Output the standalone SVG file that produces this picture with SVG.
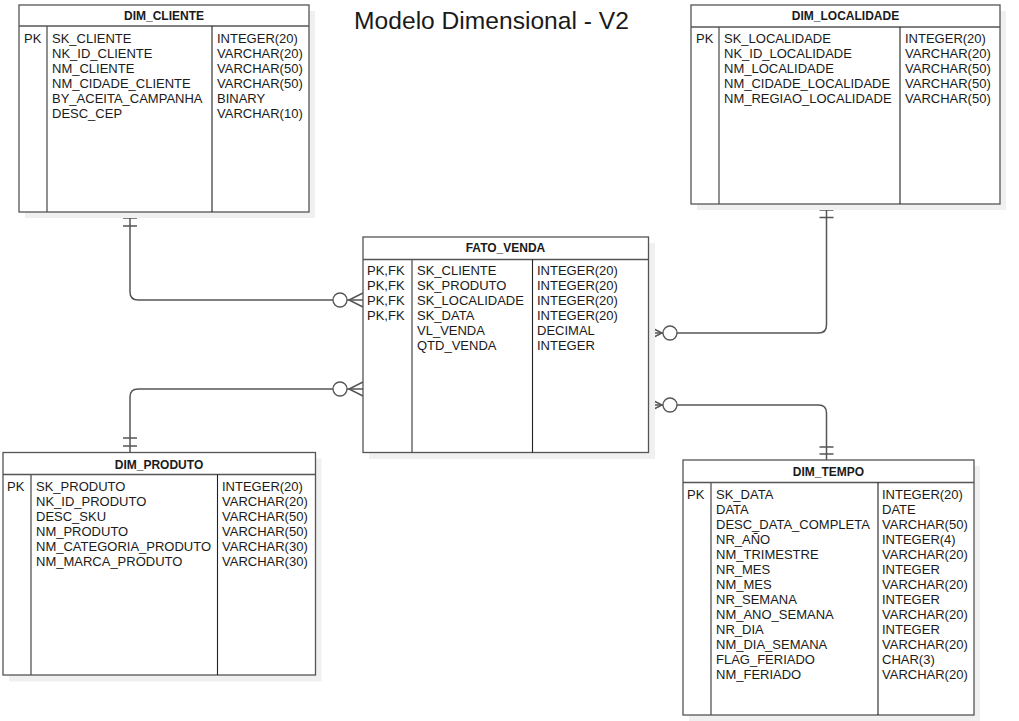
<svg xmlns="http://www.w3.org/2000/svg" width="1019" height="721" viewBox="0 0 1019 721">
<style>
.bg{fill:#ffffff}
.sh{fill:#f0f0f0;stroke:none}
.box{fill:#ffffff;stroke:#555555;stroke-width:1.3}
.div{stroke:#555555;stroke-width:1.3;fill:none}
.div2{stroke:#222222;stroke-width:1.1;fill:none}
.hd{font-family:"Liberation Sans",Arial,sans-serif;font-size:12px;font-weight:bold;fill:#1a1a1a;text-anchor:middle}
.t{font-family:"Liberation Sans",Arial,sans-serif;font-size:13px;fill:#1a1a1a}
.title{font-family:"Liberation Sans",Arial,sans-serif;font-size:24.6px;fill:#1a1a1a;text-anchor:middle}
.cn{fill:none;stroke:#555555;stroke-width:1.5}
.circ{fill:#ffffff;stroke:#555555;stroke-width:1.3}
</style>
<rect class="bg" x="0" y="0" width="1019" height="721"/>
<text class="title" x="491.5" y="29">Modelo Dimensional - V2</text>

<g id="connectors">
  <!-- DIM_CLIENTE to FATO_VENDA -->
  <path class="cn" d="M130,212 L130,292 Q130,300 138,300 L363,300"/>
  <path class="cn" d="M123,218 L137,218 M123,226 L137,226"/>
  <path class="cn" d="M363,293 L349,300 L363,307"/>
  <circle class="circ" cx="340" cy="300" r="7"/>
  <!-- DIM_PRODUTO to FATO_VENDA -->
  <path class="cn" d="M130,452 L130,397 Q130,389 138,389 L363,389"/>
  <path class="cn" d="M123,438 L137,438 M123,446 L137,446"/>
  <path class="cn" d="M363,382 L349,389 L363,396"/>
  <circle class="circ" cx="340" cy="389" r="7"/>
  <!-- DIM_LOCALIDADE to FATO_VENDA -->
  <path class="cn" d="M826.5,204 L826.5,325 Q826.5,333 818.5,333 L648,333"/>
  <path class="cn" d="M819.5,210 L833.5,210 M819.5,217.5 L833.5,217.5"/>
  <path class="cn" d="M648,326 L662,333 L648,340"/>
  <circle class="circ" cx="670" cy="333" r="7"/>
  <!-- DIM_TEMPO to FATO_VENDA -->
  <path class="cn" d="M826.5,460 L826.5,413 Q826.5,405 818.5,405 L648,405"/>
  <path class="cn" d="M819.5,447 L833.5,447 M819.5,454 L833.5,454"/>
  <path class="cn" d="M648,398 L662,405 L648,412"/>
  <circle class="circ" cx="670" cy="405" r="7"/>
</g>

<g id="DIM_CLIENTE">
  <rect class="sh" x="25" y="11" width="290" height="207"/>
  <rect class="box" x="19" y="5" width="290" height="207"/>
  <path class="div" d="M19,26 L309,26 M47,26 L47,212"/>
  <path class="div2" d="M212,26 L212,212"/>
  <text class="hd" x="164" y="19.5">DIM_CLIENTE</text>
  <text class="t" x="24" y="42.5">PK</text>
  <text class="t" x="52" y="42.5">SK_CLIENTE</text>
  <text class="t" x="52" y="57.5">NK_ID_CLIENTE</text>
  <text class="t" x="52" y="72.5">NM_CLIENTE</text>
  <text class="t" x="52" y="87.5">NM_CIDADE_CLIENTE</text>
  <text class="t" x="52" y="102.5">BY_ACEITA_CAMPANHA</text>
  <text class="t" x="52" y="117.5">DESC_CEP</text>
  <text class="t" x="217" y="42.5">INTEGER(20)</text>
  <text class="t" x="217" y="57.5">VARCHAR(20)</text>
  <text class="t" x="217" y="72.5">VARCHAR(50)</text>
  <text class="t" x="217" y="87.5">VARCHAR(50)</text>
  <text class="t" x="217" y="102.5">BINARY</text>
  <text class="t" x="217" y="117.5">VARCHAR(10)</text>
</g>

<g id="DIM_LOCALIDADE">
  <rect class="sh" x="697" y="11" width="309" height="199"/>
  <rect class="box" x="691" y="5" width="309" height="199"/>
  <path class="div" d="M691,27 L1000,27 M719,27 L719,204"/>
  <path class="div2" d="M900,27 L900,204"/>
  <text class="hd" x="845.5" y="19.5">DIM_LOCALIDADE</text>
  <text class="t" x="696" y="42.5">PK</text>
  <text class="t" x="724" y="42.5">SK_LOCALIDADE</text>
  <text class="t" x="724" y="57.5">NK_ID_LOCALIDADE</text>
  <text class="t" x="724" y="72.5">NM_LOCALIDADE</text>
  <text class="t" x="724" y="87.5">NM_CIDADE_LOCALIDADE</text>
  <text class="t" x="724" y="102.5">NM_REGIAO_LOCALIDADE</text>
  <text class="t" x="905" y="42.5">INTEGER(20)</text>
  <text class="t" x="905" y="57.5">VARCHAR(20)</text>
  <text class="t" x="905" y="72.5">VARCHAR(50)</text>
  <text class="t" x="905" y="87.5">VARCHAR(50)</text>
  <text class="t" x="905" y="102.5">VARCHAR(50)</text>
</g>

<g id="FATO_VENDA">
  <rect class="sh" x="369" y="243" width="286" height="216"/>
  <rect class="box" x="363" y="237" width="285.5" height="215.5"/>
  <path class="div" d="M363,259.5 L648.5,259.5 M412,259.5 L412,452.5"/>
  <path class="div2" d="M532.5,259.5 L532.5,452.5"/>
  <text class="hd" x="505.5" y="251.5">FATO_VENDA</text>
  <text class="t" x="367" y="275">PK,FK</text>
  <text class="t" x="367" y="290">PK,FK</text>
  <text class="t" x="367" y="305">PK,FK</text>
  <text class="t" x="367" y="320">PK,FK</text>
  <text class="t" x="417" y="275">SK_CLIENTE</text>
  <text class="t" x="417" y="290">SK_PRODUTO</text>
  <text class="t" x="417" y="305">SK_LOCALIDADE</text>
  <text class="t" x="417" y="320">SK_DATA</text>
  <text class="t" x="417" y="335">VL_VENDA</text>
  <text class="t" x="417" y="350">QTD_VENDA</text>
  <text class="t" x="537" y="275">INTEGER(20)</text>
  <text class="t" x="537" y="290">INTEGER(20)</text>
  <text class="t" x="537" y="305">INTEGER(20)</text>
  <text class="t" x="537" y="320">INTEGER(20)</text>
  <text class="t" x="537" y="335">DECIMAL</text>
  <text class="t" x="537" y="350">INTEGER</text>
</g>

<g id="DIM_PRODUTO">
  <rect class="sh" x="9" y="458.5" width="312.5" height="223"/>
  <rect class="box" x="3" y="452.5" width="312.5" height="222.5"/>
  <path class="div" d="M3,474.5 L315.5,474.5 M31,474.5 L31,675"/>
  <path class="div2" d="M217.5,474.5 L217.5,675"/>
  <text class="hd" x="159" y="468.5">DIM_PRODUTO</text>
  <text class="t" x="7" y="490.5">PK</text>
  <text class="t" x="36" y="490.5">SK_PRODUTO</text>
  <text class="t" x="36" y="505.5">NK_ID_PRODUTO</text>
  <text class="t" x="36" y="520.5">DESC_SKU</text>
  <text class="t" x="36" y="535.5">NM_PRODUTO</text>
  <text class="t" x="36" y="550.5">NM_CATEGORIA_PRODUTO</text>
  <text class="t" x="36" y="565.5">NM_MARCA_PRODUTO</text>
  <text class="t" x="222" y="490.5">INTEGER(20)</text>
  <text class="t" x="222" y="505.5">VARCHAR(20)</text>
  <text class="t" x="222" y="520.5">VARCHAR(50)</text>
  <text class="t" x="222" y="535.5">VARCHAR(50)</text>
  <text class="t" x="222" y="550.5">VARCHAR(30)</text>
  <text class="t" x="222" y="565.5">VARCHAR(30)</text>
</g>

<g id="DIM_TEMPO">
  <rect class="sh" x="689" y="466" width="291" height="255"/>
  <rect class="box" x="683" y="460" width="291" height="255"/>
  <path class="div" d="M683,482.5 L974,482.5 M711,482.5 L711,715"/>
  <path class="div2" d="M878,482.5 L878,715"/>
  <text class="hd" x="828.5" y="475.5">DIM_TEMPO</text>
  <text class="t" x="687" y="498.5">PK</text>
  <text class="t" x="716" y="498.5">SK_DATA</text>
  <text class="t" x="716" y="513.5">DATA</text>
  <text class="t" x="716" y="528.5">DESC_DATA_COMPLETA</text>
  <text class="t" x="716" y="543.5">NR_AÑO</text>
  <text class="t" x="716" y="558.5">NM_TRIMESTRE</text>
  <text class="t" x="716" y="573.5">NR_MES</text>
  <text class="t" x="716" y="588.5">NM_MES</text>
  <text class="t" x="716" y="603.5">NR_SEMANA</text>
  <text class="t" x="716" y="618.5">NM_ANO_SEMANA</text>
  <text class="t" x="716" y="633.5">NR_DIA</text>
  <text class="t" x="716" y="648.5">NM_DIA_SEMANA</text>
  <text class="t" x="716" y="663.5">FLAG_FERIADO</text>
  <text class="t" x="716" y="678.5">NM_FERIADO</text>
  <text class="t" x="882" y="498.5">INTEGER(20)</text>
  <text class="t" x="882" y="513.5">DATE</text>
  <text class="t" x="882" y="528.5">VARCHAR(50)</text>
  <text class="t" x="882" y="543.5">INTEGER(4)</text>
  <text class="t" x="882" y="558.5">VARCHAR(20)</text>
  <text class="t" x="882" y="573.5">INTEGER</text>
  <text class="t" x="882" y="588.5">VARCHAR(20)</text>
  <text class="t" x="882" y="603.5">INTEGER</text>
  <text class="t" x="882" y="618.5">VARCHAR(20)</text>
  <text class="t" x="882" y="633.5">INTEGER</text>
  <text class="t" x="882" y="648.5">VARCHAR(20)</text>
  <text class="t" x="882" y="663.5">CHAR(3)</text>
  <text class="t" x="882" y="678.5">VARCHAR(20)</text>
</g>
</svg>
